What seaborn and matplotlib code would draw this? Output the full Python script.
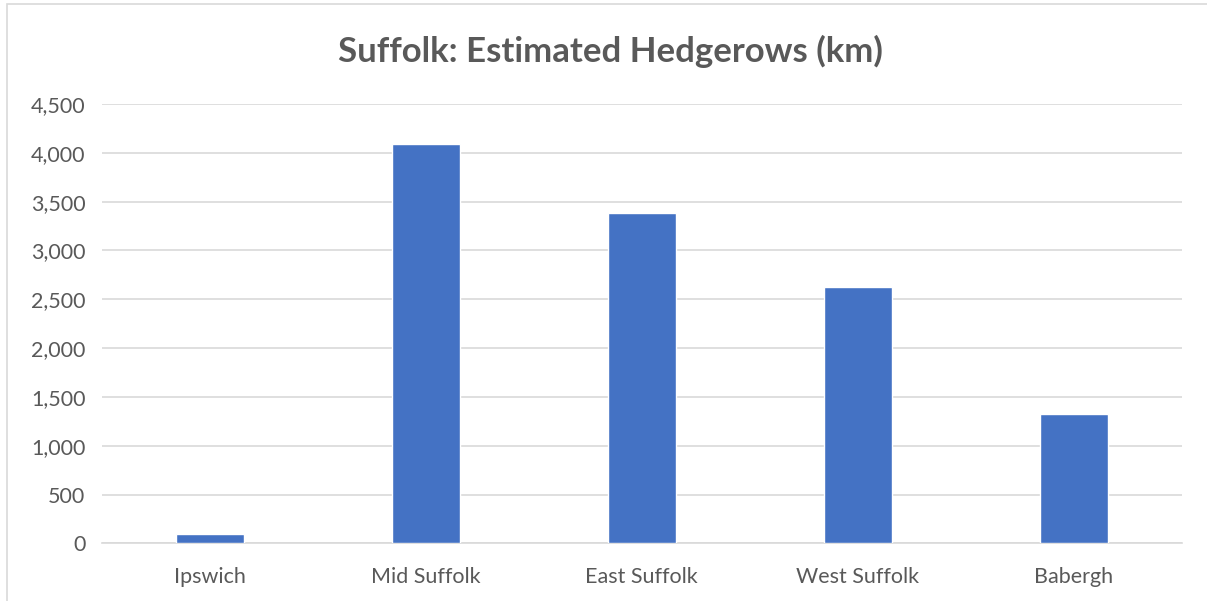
import matplotlib
matplotlib.use("Agg")
import matplotlib.pyplot as plt
import matplotlib.ticker as mticker
from matplotlib.patches import Rectangle
import seaborn as sns
import pandas as pd

# Values
districts = ["Ipswich", "Mid Suffolk", "East Suffolk", "West Suffolk", "Babergh"]
hedgerows_km = [92, 4095, 3385, 2625, 1323]

df = pd.DataFrame({"district": districts, "km": hedgerows_km})

sns.set_theme(style="white")
plt.rcParams["font.family"] = ["Lato", "DejaVu Sans"]

grey = "#595959"
fig = plt.figure(figsize=(12.07, 6.01), dpi=100)
ax = fig.add_axes([0.0845, 0.0957, 0.8945, 0.7313])

sns.barplot(data=df, x="district", y="km", color="#4472C4", width=0.315,
            saturation=1, ax=ax, zorder=3)

ax.set_ylim(0, 4500)
ax.yaxis.set_major_locator(mticker.MultipleLocator(500))
ax.yaxis.set_major_formatter(mticker.FuncFormatter(lambda v, p: f"{int(v):,}"))
ax.grid(axis="y", color="#d9d9d9", linewidth=1.2, zorder=0)
ax.set_xlabel("")
ax.set_ylabel("")
for side in ["top", "right", "left"]:
    ax.spines[side].set_visible(False)
ax.spines["bottom"].set_color("#d9d9d9")
ax.spines["bottom"].set_linewidth(1.2)
ax.tick_params(axis="both", length=0, labelsize=15.5, labelcolor=grey)
ax.tick_params(axis="x", pad=17)
ax.tick_params(axis="y", pad=12)

fig.text(0.506, 0.915, "Suffolk: Estimated Hedgerows (km)", ha="center", va="center",
         fontsize=25, fontweight="bold", color=grey)

# light outer frame like the source chart
fig.patches.append(Rectangle((7 / 1207, -0.01), 1.01, 1 - 4 / 601 + 0.01,
                             transform=fig.transFigure, fill=False,
                             edgecolor="#d9d9d9", linewidth=1.2))

fig.savefig("out.png", dpi=100)
